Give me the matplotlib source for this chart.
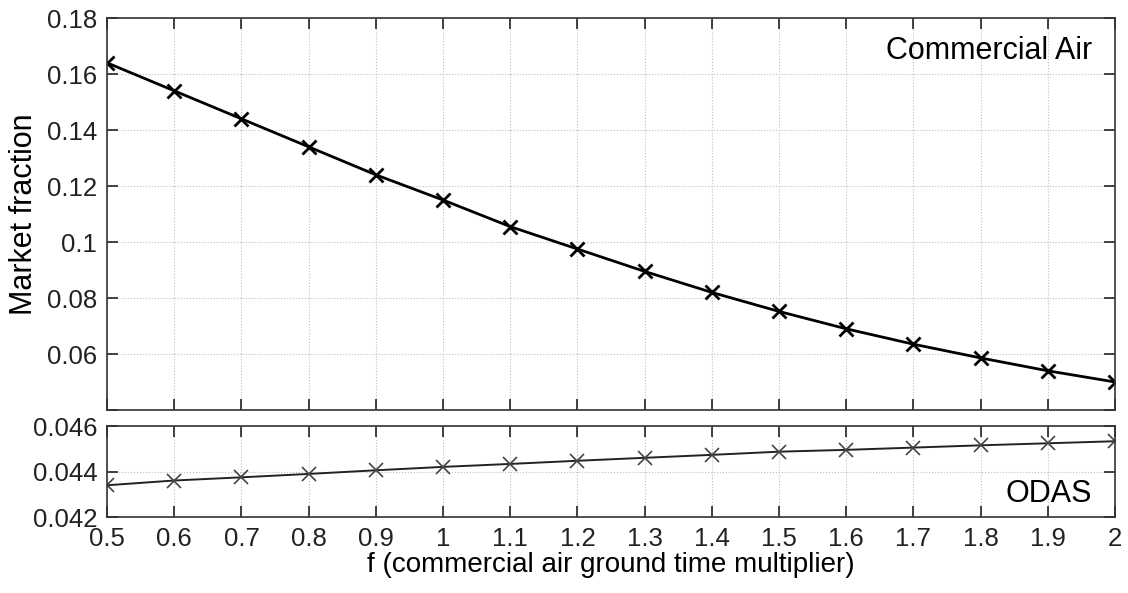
import matplotlib
matplotlib.use("Agg")
import matplotlib.pyplot as plt

# ===========================
# DATA
# ===========================
f_values = [0.5, 0.6, 0.7, 0.8, 0.9, 1.0, 1.1, 1.2, 1.3, 1.4, 1.5, 1.6, 1.7, 1.8, 1.9, 2.0]
commercial_air = [0.164, 0.154, 0.144, 0.134, 0.124, 0.115, 0.1055, 0.0975,
                  0.0895, 0.082, 0.0752, 0.069, 0.0635, 0.0586, 0.054, 0.050]
odas = [0.04341, 0.04362, 0.04376, 0.04391, 0.04407, 0.04422, 0.04435, 0.04449,
        0.04462, 0.04475, 0.04489, 0.04497, 0.04507, 0.04517, 0.04526, 0.04535]

x_ticks = [0.5, 0.6, 0.7, 0.8, 0.9, 1.0, 1.1, 1.2, 1.3, 1.4, 1.5, 1.6, 1.7, 1.8, 1.9, 2.0]
x_tick_labels = ["0.5", "0.6", "0.7", "0.8", "0.9", "1", "1.1", "1.2", "1.3", "1.4",
                 "1.5", "1.6", "1.7", "1.8", "1.9", "2"]
top_y_ticks = [0.04, 0.06, 0.08, 0.10, 0.12, 0.14, 0.16, 0.18]
top_y_labels = ["", "0.06", "0.08", "0.1", "0.12", "0.14", "0.16", "0.18"]
bottom_y_ticks = [0.042, 0.044, 0.046]
bottom_y_labels = ["0.042", "0.044", "0.046"]

# ===========================
# STYLE
# ===========================
plt.rcParams["font.family"] = ["Liberation Sans", "DejaVu Sans"]
TICK_SIZE = 18.5
XLABEL_SIZE = 20
YLABEL_SIZE = 22
NOTE_SIZE = 22

fig = plt.figure(figsize=(11.28, 5.93), dpi=100)
ax_top = fig.add_axes([0.0949, 0.3086, 0.8936, 0.661])
ax_bot = fig.add_axes([0.0949, 0.1277, 0.8936, 0.1531])


def style_axis(ax):
    ax.set_xlim(0.5, 2.0)
    ax.set_xticks(x_ticks)
    ax.grid(True, linestyle=":", color="#bdbdbd", linewidth=0.8)
    ax.tick_params(direction="in", length=8, width=1.2, top=True, right=True,
                   labelsize=TICK_SIZE, colors="#222222", pad=7)
    for spine in ax.spines.values():
        spine.set_linewidth(1.2)
        spine.set_color("#333333")


# Commercial air panel
ax_top.plot(f_values, commercial_air, color="black", linewidth=2.0,
            marker="x", markersize=10, markeredgewidth=2.0)
style_axis(ax_top)
ax_top.set_ylim(0.04, 0.18)
ax_top.set_yticks(top_y_ticks)
ax_top.set_yticklabels(top_y_labels)
ax_top.set_xticklabels([])
ax_top.set_ylabel("Market fraction", fontsize=YLABEL_SIZE, labelpad=6)
ax_top.text(0.977, 0.915, "Commercial Air", transform=ax_top.transAxes,
            ha="right", va="center", fontsize=NOTE_SIZE)

# ODAS panel
ax_bot.plot(f_values, odas, color="#222222", linewidth=1.4,
            marker="x", markersize=10, markeredgewidth=1.2, markeredgecolor="#444444")
style_axis(ax_bot)
ax_bot.set_ylim(0.042, 0.046)
ax_bot.set_yticks(bottom_y_ticks)
ax_bot.set_yticklabels(bottom_y_labels)
ax_bot.set_xticklabels(x_tick_labels)
ax_bot.text(0.977, 0.26, "ODAS", transform=ax_bot.transAxes,
            ha="right", va="center", fontsize=NOTE_SIZE)
ax_bot.set_xlabel("f (commercial air ground time multiplier)", fontsize=XLABEL_SIZE, labelpad=1)

fig.savefig("out.png", dpi=100)
plt.close(fig)
